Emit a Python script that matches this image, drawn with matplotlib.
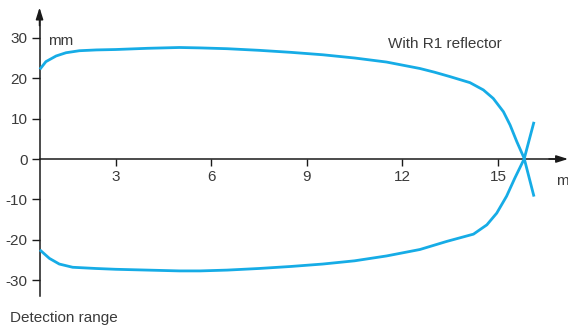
import matplotlib
matplotlib.use("Agg")
import matplotlib.pyplot as plt

# data (metres, mm)
upper_x = [0.62, 0.81, 1.13, 1.44, 1.86, 2.4, 3.0, 4.0, 5.0, 5.65, 6.5, 7.5, 8.5, 9.5, 10.5, 11.5, 12.55, 13.0, 13.49, 14.12, 14.54, 14.85, 15.17, 15.38, 15.59, 15.82, 16.13]
upper_y = [22.2, 24.1, 25.5, 26.3, 26.8, 27.0, 27.1, 27.4, 27.6, 27.5, 27.3, 26.9, 26.4, 25.8, 25.0, 24.0, 22.4, 21.5, 20.4, 18.9, 17.1, 15.0, 11.7, 8.4, 4.3, 0.2, -9.3]
lower_x = [0.62, 0.92, 1.23, 1.65, 2.38, 3.0, 4.0, 5.0, 5.65, 6.5, 7.5, 8.5, 9.5, 10.5, 11.5, 12.55, 13.39, 14.23, 14.65, 14.96, 15.27, 15.53, 15.82, 16.13]
lower_y = [-22.5, -24.6, -26.0, -26.8, -27.1, -27.3, -27.5, -27.7, -27.7, -27.5, -27.1, -26.6, -26.0, -25.2, -24.0, -22.4, -20.4, -18.6, -16.3, -13.4, -9.2, -4.7, 0.0, 9.2]
x_ticks = [3, 6, 9, 12, 15]
y_ticks = [-30, -20, -10, 0, 10, 20, 30]

W, H = 568, 329
fig = plt.figure(figsize=(W/100, H/100), dpi=100)
ax = fig.add_axes([0, 0, 1, 1])
ax.patch.set_alpha(0)
ppx = 31.86
ppy = 4.04
x0px = 20.1
y0px = 159
ax.set_xlim(-x0px/ppx, (W - x0px)/ppx)
ax.set_ylim(-(H - y0px)/ppy, y0px/ppy)

yaxis_x = 0.61
axc = "#1a1a1a"
txtc = "#3a3a3a"
font = "Liberation Sans"
curve_c = "#16ace6"

for s in ["top", "right"]:
    ax.spines[s].set_visible(False)
ax.spines["left"].set_position(("data", yaxis_x))
ax.spines["bottom"].set_position(("data", 0))
ax.spines["left"].set_bounds(-34, 36)
ax.spines["bottom"].set_bounds(yaxis_x, 17.0)
for s in ["left", "bottom"]:
    ax.spines[s].set_color(axc)
    ax.spines[s].set_linewidth(1.1)

ax.set_xticks(x_ticks)
ax.set_xticklabels([str(v) for v in x_ticks])
ax.set_yticks(y_ticks)
ax.set_yticklabels([str(v) for v in y_ticks])
ax.tick_params(axis="x", direction="out", length=5, width=1, color=axc, pad=3,
               labelsize=11, labelcolor=txtc)
ax.tick_params(axis="y", direction="out", length=6, width=1, color=axc, pad=2.5,
               labelsize=11, labelcolor=txtc)
for lab in ax.get_xticklabels() + ax.get_yticklabels():
    lab.set_fontfamily(font)

# arrows
ax.annotate("", xy=(yaxis_x, 37.5), xytext=(yaxis_x, 33),
            arrowprops=dict(arrowstyle="-|>,head_length=0.7,head_width=0.22", color=axc, lw=1.1,
                            shrinkA=0, shrinkB=0), annotation_clip=False)
ax.annotate("", xy=(17.2, 0), xytext=(16.6, 0),
            arrowprops=dict(arrowstyle="-|>,head_length=0.7,head_width=0.22", color=axc, lw=1.1,
                            shrinkA=0, shrinkB=0), annotation_clip=False)

ax.plot(upper_x, upper_y, color=curve_c, lw=2.0, solid_capstyle="butt",
        solid_joinstyle="round", zorder=3)
ax.plot(lower_x, lower_y, color=curve_c, lw=2.0, solid_capstyle="butt",
        solid_joinstyle="round", zorder=3)

ax.text(48/ppx - x0px/ppx, (y0px - 41)/ppy, "mm", fontsize=11, color=txtc,
        family=font, ha="left", va="center")
ax.text(388/ppx - x0px/ppx, (y0px - 44)/ppy, "With R1 reflector", fontsize=11,
        color=txtc, family=font, ha="left", va="center")
ax.text(556/ppx - x0px/ppx, (y0px - 181)/ppy, "mm", fontsize=11, color=txtc,
        family=font, ha="left", va="center")
ax.text(10/ppx - x0px/ppx, (y0px - 318)/ppy, "Detection range", fontsize=11,
        color=txtc, family=font, ha="left", va="center")

fig.savefig("out.png", dpi=100)
